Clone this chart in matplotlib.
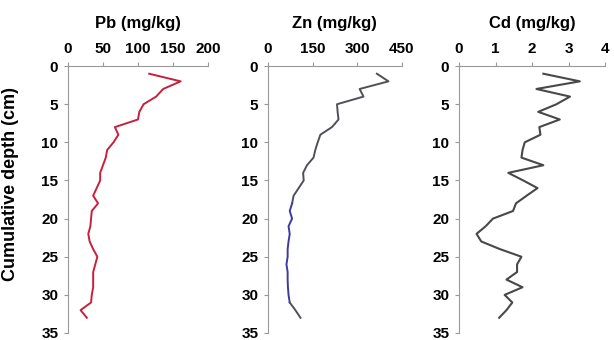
import matplotlib
matplotlib.use("Agg")
import matplotlib.pyplot as plt

plt.rcParams['font.family'] = ['Liberation Sans', 'DejaVu Sans']
plt.rcParams['font.weight'] = 'bold'

# depth of each sample (cm)
depth = list(range(1, 34))

pb = [116, 161, 136, 126, 108, 102, 100, 67, 72, 65, 56, 54, 50, 46, 46, 41,
      36, 43, 34, 33, 32, 29, 31, 36, 42, 39, 36, 36, 36, 34, 33, 18, 27]
zn = [366, 405, 308, 321, 232, 234, 237, 215, 176, 167, 159, 153, 131, 118, 120, 103,
      86, 81, 73, 81, 69, 73, 69, 66, 66, 62, 66, 66, 67, 69, 73, 92, 109]
cd = [2.31, 3.31, 2.12, 3.04, 2.67, 2.17, 2.76, 2.20, 2.23, 1.80, 1.74, 1.71, 2.31,
      1.35, 1.76, 2.15, 1.85, 1.56, 1.48, 0.93, 0.73, 0.48, 0.61, 1.12, 1.71, 1.59,
      1.59, 1.30, 1.74, 1.25, 1.46, 1.30, 1.10]

titles = ['Pb (mg/kg)', 'Zn (mg/kg)', 'Cd (mg/kg)']
xticks = [[0, 50, 100, 150, 200], [0, 150, 300, 450], [0, 1, 2, 3, 4]]
yticks = [0, 5, 10, 15, 20, 25, 30, 35]

fig = plt.figure(figsize=(6.14, 3.40), dpi=100)
boxes = [[0.1107, 0.0206, 0.228, 0.785],
         [0.4365, 0.0206, 0.218, 0.785],
         [0.7476, 0.0206, 0.2378, 0.785]]
axes = [fig.add_axes(b) for b in boxes]

axes[0].plot(pb, depth, color='#c8203c', lw=1.4)
# Zn line looks dark grey with a bluish lower stretch
axes[1].plot(zn[:18], depth[:18], color='#505058', lw=1.4)
axes[1].plot(zn[17:31], depth[17:31], color='#3c3c9c', lw=1.4)
axes[1].plot(zn[30:], depth[30:], color='#505058', lw=1.4)
axes[2].plot(cd, depth, color='#484848', lw=1.5)

for ax, t, xt in zip(axes, titles, xticks):
    ax.set_xlim(xt[0], xt[-1])
    ax.set_ylim(35, 0)
    ax.set_xticks(xt)
    ax.set_yticks(yticks)
    ax.xaxis.tick_top()
    ax.xaxis.set_label_position('top')
    ax.set_xlabel(t, fontsize=12, fontweight='bold', labelpad=10)
    for s in ['right', 'bottom']:
        ax.spines[s].set_visible(False)
    for s in ['left', 'top']:
        ax.spines[s].set_color('#999999')
        ax.spines[s].set_linewidth(0.8)
    ax.tick_params(axis='both', direction='out', length=3, width=0.8,
                   color='#999999', labelsize=11, pad=4)
    for lab in ax.get_xticklabels() + ax.get_yticklabels():
        lab.set_fontweight('bold')
    ax.patch.set_alpha(0)

axes[0].set_ylabel('Cumulative depth (cm)', fontsize=13, fontweight='bold')
axes[0].yaxis.set_label_coords(-0.35, 0.56)

fig.savefig('out.png', dpi=100)
